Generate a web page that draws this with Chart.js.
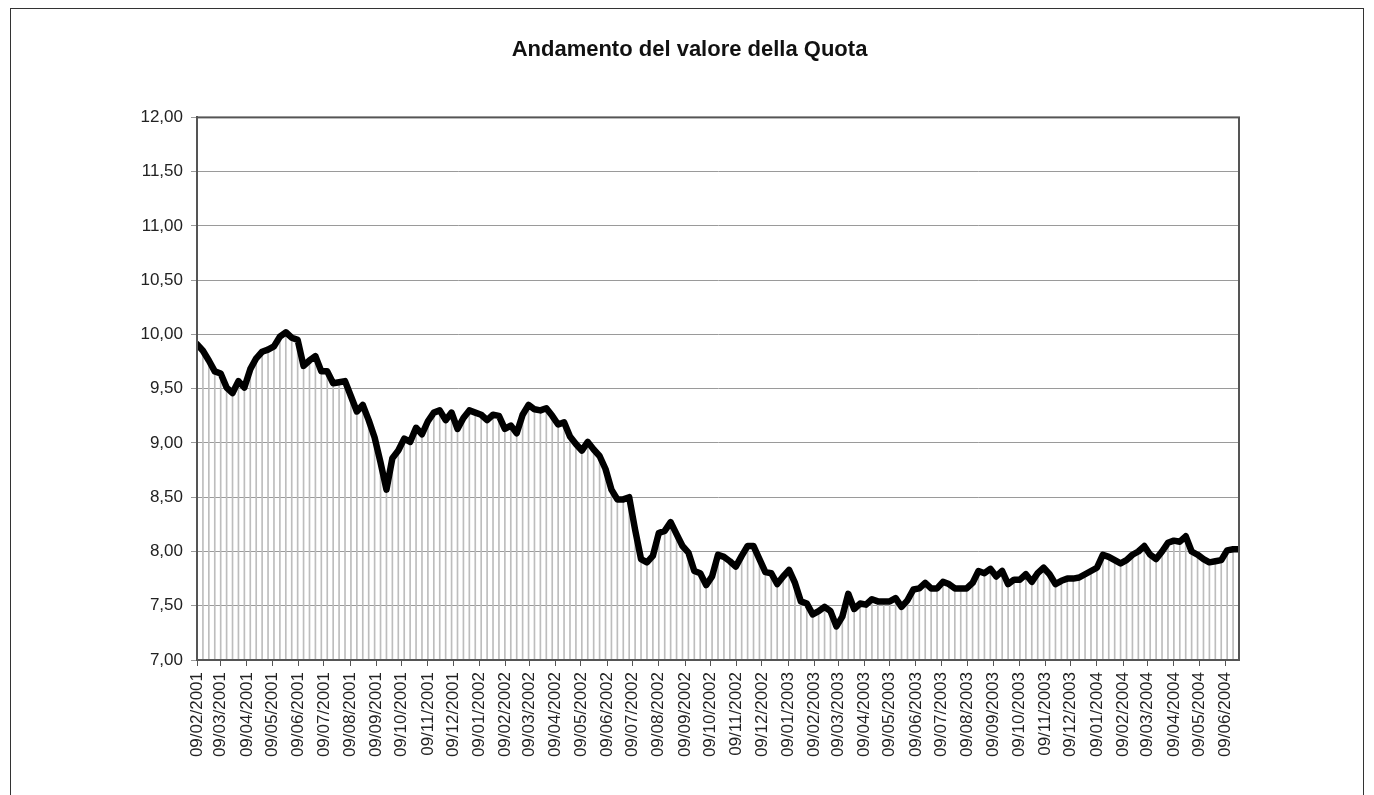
<!DOCTYPE html>
<html><head><meta charset="utf-8">
<script src="https://cdn.jsdelivr.net/npm/chart.js@4"></script>
<style>html,body{margin:0;padding:0;background:#fff}#wrap{width:1374px;height:795px;position:relative}</style>
</head><body><div id="wrap"><canvas id="c" width="1374" height="795"></canvas></div>
<script>
const chartTitle = 'Andamento del valore della Quota';
const firstDate = '09/02/2001';
const values = [
9.91,9.85,9.76,9.66,9.64,9.51,9.46,9.57,9.51,9.68,
9.78,9.84,9.86,9.89,9.98,10.02,9.97,9.95,9.71,9.76,
9.80,9.66,9.66,9.55,9.56,9.57,9.43,9.29,9.35,9.21,
9.05,8.82,8.57,8.86,8.93,9.04,9.01,9.14,9.08,9.20,
9.28,9.30,9.21,9.28,9.13,9.23,9.30,9.28,9.26,9.21,
9.26,9.25,9.13,9.16,9.09,9.26,9.35,9.31,9.30,9.32,
9.25,9.17,9.19,9.06,8.99,8.93,9.01,8.94,8.88,8.76,
8.57,8.48,8.48,8.50,8.20,7.93,7.90,7.96,8.17,8.19,
8.27,8.16,8.05,7.99,7.82,7.80,7.69,7.77,7.97,7.95,
7.91,7.86,7.96,8.05,8.05,7.93,7.81,7.80,7.70,7.77,
7.83,7.71,7.54,7.52,7.42,7.45,7.49,7.45,7.31,7.40,
7.61,7.47,7.52,7.51,7.56,7.54,7.54,7.54,7.57,7.49,
7.55,7.65,7.66,7.71,7.66,7.66,7.72,7.70,7.66,7.66,
7.66,7.71,7.82,7.80,7.84,7.77,7.82,7.70,7.74,7.74,
7.79,7.72,7.80,7.85,7.79,7.70,7.73,7.75,7.75,7.76,
7.79,7.82,7.85,7.97,7.95,7.92,7.89,7.92,7.97,8.00,
8.05,7.97,7.93,8.00,8.08,8.10,8.09,8.14,8.00,7.97,
7.93,7.90,7.91,7.92,8.01,8.02,8.02
];
const monthTicks = [
'09/02/2001','09/03/2001','09/04/2001','09/05/2001','09/06/2001','09/07/2001','09/08/2001','09/09/2001','09/10/2001','09/11/2001','09/12/2001',
'09/01/2002','09/02/2002','09/03/2002','09/04/2002','09/05/2002','09/06/2002','09/07/2002','09/08/2002','09/09/2002','09/10/2002','09/11/2002','09/12/2002',
'09/01/2003','09/02/2003','09/03/2003','09/04/2003','09/05/2003','09/06/2003','09/07/2003','09/08/2003','09/09/2003','09/10/2003','09/11/2003','09/12/2003',
'09/01/2004','09/02/2004','09/03/2004','09/04/2004','09/05/2004','09/06/2004'
];
const yTicks = [7.0,7.5,8.0,8.5,9.0,9.5,10.0,10.5,11.0,11.5,12.0];

function dayOf(s){const p=s.split('/').map(Number);return Math.round(Date.UTC(p[2],p[1]-1,p[0])/86400000);}
const d0 = dayOf(firstDate);
const weekDays = values.map((v,i)=>i*7);
const points = values.map((v,i)=>({x:weekDays[i], y:v}));
const tickPos = monthTicks.map(s=>dayOf(s)-d0);

const FONT = "'Liberation Sans', Arial, Helvetica, sans-serif";

const framePlugin = {
  id:'frame',
  beforeDraw(chart){
    const ctx = chart.ctx;
    ctx.save();
    ctx.fillStyle='#fff';
    ctx.fillRect(0,0,chart.width,chart.height);
    ctx.restore();
  },
  afterDraw(chart){
    const ctx = chart.ctx, a = chart.chartArea;
    ctx.save();
    ctx.strokeStyle='#555';
    ctx.lineWidth=2;
    ctx.strokeRect(a.left, a.top, a.right-a.left, a.bottom-a.top);
    ctx.strokeStyle='#333';
    ctx.lineWidth=1;
    ctx.strokeRect(10.5, 8.5, 1353, 800);
    ctx.restore();
  }
};

new Chart(document.getElementById('c'), {
  type:'line',
  data:{
    datasets:[
      {type:'line', data:points, borderColor:'#000', borderWidth:6.5, pointRadius:0, tension:0,
       borderJoinStyle:'round', borderCapStyle:'round', order:0},
      {type:'bar', data:points, backgroundColor:'#bdbdbd', borderWidth:0, barThickness:1, order:1}
    ]
  },
  options:{
    responsive:false, animation:false, devicePixelRatio:1,
    layout:{padding:{left:140, right:135, top:37, bottom:20}},
    plugins:{
      legend:{display:false}, tooltip:{enabled:false},
      title:{display:true, text:chartTitle, color:'#111',
        font:{family:FONT, size:22, weight:'bold'}, padding:{top:0, bottom:54}}
    },
    scales:{
      x:{type:'linear', min:0, max:weekDays[weekDays.length-1], offset:false,
        afterBuildTicks:s=>{s.ticks = tickPos.map(v=>({value:v}));},
        afterFit:s=>{s.height = 115;},
        ticks:{autoSkip:false, minRotation:90, maxRotation:90, padding:6, color:'#222',
          font:{family:FONT, size:17},
          callback:(v)=>{const k=tickPos.indexOf(v);return k>=0?monthTicks[k]:'';}},
        grid:{drawOnChartArea:false, drawTicks:true, tickLength:6, color:'#555', offset:false},
        border:{color:'#555', width:2}
      },
      y:{min:7, max:12,
        afterBuildTicks:s=>{s.ticks = yTicks.map(v=>({value:v}));},
        afterFit:s=>{s.width = 57;},
        ticks:{padding:8, color:'#222', font:{family:FONT, size:17},
          callback:v=>Number(v).toFixed(2).replace('.',',')},
        grid:{color:'#9a9a9a', lineWidth:1, drawTicks:true, tickLength:6},
        border:{color:'#555', width:2}
      }
    }
  },
  plugins:[framePlugin]
});
</script></body></html>
